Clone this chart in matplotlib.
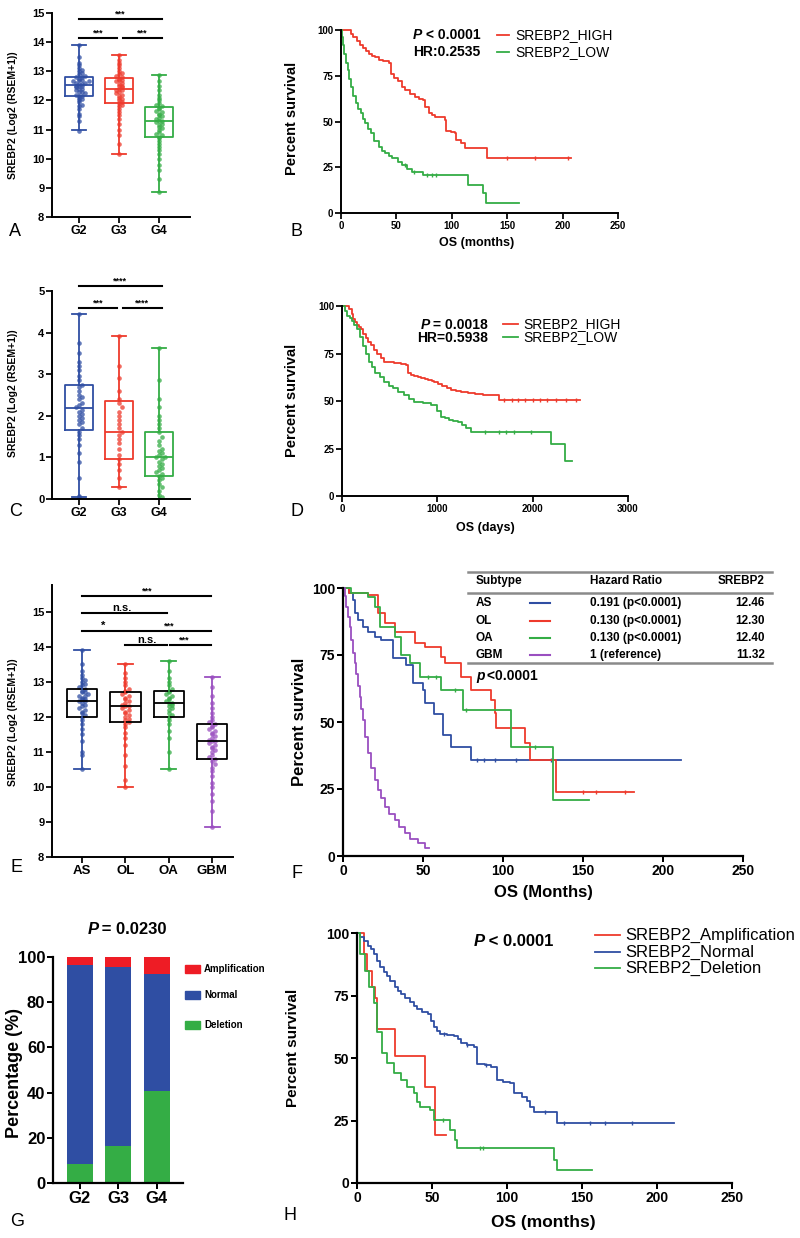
import numpy as np
import matplotlib
matplotlib.use('Agg')
import matplotlib.pyplot as plt

plt.rcParams['font.family'] = ['Liberation Sans', 'DejaVu Sans']
plt.rcParams['font.weight'] = 'bold'

# ---------------- data ----------------
grades = ['G2', 'G3', 'G4']
subtypes = ['AS', 'OL', 'OA', 'GBM']

# panel A: SREBP2 expression by grade (points + box stats)
a_g2 = [10.95, 11.3, 11.45, 11.55, 11.7, 11.8, 11.85, 11.95, 12.0, 12.05, 12.1, 12.15, 12.15, 12.2, 12.25,
        12.3, 12.3, 12.35, 12.4, 12.4, 12.45, 12.5, 12.5, 12.5, 12.55, 12.55, 12.6, 12.6, 12.65, 12.65,
        12.7, 12.7, 12.75, 12.8, 12.8, 12.85, 12.9, 12.95, 13.0, 13.05, 13.1, 13.2, 13.3, 13.5, 13.9]
a_g3 = [10.17, 10.5, 10.8, 11.0, 11.2, 11.35, 11.5, 11.6, 11.7, 11.8, 11.85, 11.9, 11.95, 12.0, 12.05,
        12.1, 12.15, 12.2, 12.25, 12.3, 12.35, 12.35, 12.4, 12.45, 12.5, 12.5, 12.55, 12.6, 12.65, 12.7,
        12.7, 12.75, 12.8, 12.85, 12.9, 12.95, 13.0, 13.1, 13.2, 13.3, 13.4, 13.55]
a_g4 = [8.86, 9.3, 9.6, 9.8, 10.0, 10.15, 10.3, 10.4, 10.5, 10.6, 10.7, 10.75, 10.8, 10.85, 10.9, 11.0,
        11.05, 11.1, 11.15, 11.2, 11.25, 11.3, 11.3, 11.35, 11.4, 11.45, 11.5, 11.55, 11.6, 11.65, 11.7,
        11.75, 11.8, 11.85, 11.9, 12.0, 12.1, 12.2, 12.35, 12.5, 12.65, 12.86]
a_lo = [10.97, 10.17, 8.86]
a_q1 = [12.14, 11.9, 10.76]
a_med = [12.52, 12.38, 11.28]
a_q3 = [12.79, 12.76, 11.76]
a_hi = [13.9, 13.55, 12.86]

# panel C
c_g2 = [0.05, 0.08, 0.5, 0.9, 1.1, 1.3, 1.45, 1.55, 1.62, 1.7, 1.8, 1.85, 1.9, 1.95, 2.0, 2.05, 2.1,
        2.15, 2.2, 2.25, 2.3, 2.4, 2.45, 2.5, 2.6, 2.7, 2.75, 2.85, 2.95, 3.1, 3.2, 3.3, 3.5, 3.75, 4.45]
c_g3 = [0.3, 0.5, 0.7, 0.85, 0.95, 1.05, 1.2, 1.35, 1.45, 1.55, 1.6, 1.7, 1.8, 1.9, 2.0, 2.1, 2.2, 2.3,
        2.4, 2.6, 2.9, 3.2, 3.93]
c_g4 = [0.0, 0.05, 0.1, 0.2, 0.3, 0.35, 0.45, 0.5, 0.55, 0.6, 0.65, 0.7, 0.75, 0.8, 0.85, 0.9, 0.95, 1.0,
        1.0, 1.05, 1.1, 1.15, 1.2, 1.3, 1.4, 1.5, 1.6, 1.7, 1.8, 1.9, 2.0, 2.2, 2.4, 2.85, 3.63]
c_lo = [0.05, 0.3, 0.0]
c_q1 = [1.65, 0.95, 0.55]
c_med = [2.18, 1.6, 1.0]
c_q3 = [2.75, 2.35, 1.6]
c_hi = [4.45, 3.93, 3.63]

# panel E
e_as = [10.5, 10.9, 11.0, 11.3, 11.5, 11.65, 11.8, 11.9, 12.0, 12.05, 12.1, 12.15, 12.2, 12.25, 12.3,
        12.35, 12.4, 12.45, 12.45, 12.5, 12.5, 12.55, 12.6, 12.6, 12.65, 12.7, 12.7, 12.75, 12.8, 12.85,
        12.9, 12.95, 13.0, 13.05, 13.1, 13.2, 13.3, 13.5, 13.9]
e_ol = [10.0, 10.2, 10.6, 10.9, 11.2, 11.4, 11.55, 11.7, 11.8, 11.85, 11.9, 11.95, 12.0, 12.05, 12.1,
        12.15, 12.2, 12.25, 12.3, 12.3, 12.35, 12.4, 12.45, 12.5, 12.55, 12.6, 12.65, 12.7, 12.75, 12.8,
        12.9, 13.0, 13.1, 13.25, 13.5]
e_oa = [10.5, 11.0, 11.4, 11.6, 11.8, 11.9, 12.0, 12.05, 12.1, 12.2, 12.25, 12.3, 12.35, 12.4, 12.4,
        12.45, 12.5, 12.55, 12.6, 12.65, 12.7, 12.75, 12.8, 12.9, 13.0, 13.1, 13.3, 13.6]
e_gbm = [8.85, 9.3, 9.6, 9.8, 10.0, 10.1, 10.3, 10.45, 10.55, 10.65, 10.75, 10.8, 10.85, 10.9, 11.0,
         11.05, 11.1, 11.15, 11.2, 11.25, 11.3, 11.3, 11.35, 11.4, 11.45, 11.5, 11.55, 11.6, 11.65, 11.7,
         11.75, 11.8, 11.85, 11.9, 12.0, 12.1, 12.25, 12.4, 12.6, 12.85, 13.15]
e_lo = [10.5, 10.0, 10.5, 8.85]
e_q1 = [12.0, 11.85, 12.0, 10.8]
e_med = [12.47, 12.3, 12.4, 11.32]
e_q3 = [12.8, 12.7, 12.75, 11.8]
e_hi = [13.9, 13.5, 13.6, 13.15]

# panel B: KM, months
b_hi_t = [0, 9, 11, 14, 17, 20, 23, 25, 28, 31, 34, 38, 43, 45, 48, 51, 55, 58, 62, 67, 70, 74, 76, 79,
          82, 85, 94, 95, 99, 103, 104, 108, 112, 132, 208]
b_hi_s = [100, 98, 96, 94, 92, 90, 88.5, 87, 86, 85, 83.6, 83, 82, 76, 74, 72, 69, 67, 65, 63.6, 62.5,
          61.7, 58, 54.5, 53.5, 52.6, 50.8, 45, 44, 43.5, 40, 38, 35.3, 29.9, 29.9]
b_hi_c = [150, 175, 205]
b_lo_t = [0, 1, 2, 3, 4.5, 6, 7.5, 9, 11, 13.4, 15.5, 18, 20, 22, 24.5, 27, 30, 34, 37, 40, 43, 46, 51,
          55, 60, 64, 74, 115, 128, 131, 161]
b_lo_s = [100, 96, 92, 87, 82, 78, 73, 69, 64, 60, 57, 54.5, 51.5, 49, 46, 43.5, 39.5, 36, 34, 32.6, 31,
          30, 28, 26, 24, 22.6, 20.8, 15.3, 10.7, 5.6, 5.6]
b_lo_c = [58, 66, 78, 82, 86]

# panel D: KM, days
d_hi_t = [0, 74, 100, 120, 140, 160, 180, 196, 220, 250, 275, 302, 335, 370, 405, 442, 500, 550, 620,
          670, 688, 720, 760, 800, 828, 870, 900, 940, 968, 1010, 1050, 1100, 1144, 1200, 1250, 1319,
          1400, 1480, 1565, 1650, 2494]
d_hi_s = [100, 98.5, 96, 93, 91.5, 90, 89, 88, 85.5, 83, 81, 79.5, 77, 75, 72.5, 70.7, 70.3, 70, 69.5,
          69, 64.5, 63.8, 63, 62.5, 62, 61.5, 61, 60.5, 60, 59, 58, 57, 55.8, 55.3, 55, 54, 53.7, 53.3,
          53, 50.5, 50.5]
d_hi_c = [1700, 1780, 1850, 1920, 2000, 2080, 2150, 2250, 2350, 2450]
d_lo_t = [0, 30, 56, 80, 100, 130, 161, 190, 220, 250, 284, 315, 350, 400, 442, 490, 530, 590, 653,
          700, 758, 850, 933, 1000, 1039, 1080, 1120, 1160, 1214, 1260, 1300, 1354, 2196, 2337, 2414]
d_lo_s = [100, 97.5, 95, 93.5, 92, 90, 88, 83.5, 79, 75, 70.7, 68, 65, 62.5, 60, 58, 56.7, 55, 53,
          51.3, 49.6, 48.8, 48, 45, 41.8, 41, 40, 39.5, 39, 37.5, 36, 33.9, 27.4, 18.4, 18.4]
d_lo_c = [1500, 1650, 1720, 1800, 1980]

# panel F: KM by subtype, months
f_as_t = [0, 4, 6.3, 7.7, 9.4, 12.5, 15.6, 19.8, 24, 31, 39.6, 43.8, 50, 51, 57, 62.5, 67.7, 80, 211]
f_as_s = [100, 98, 95.5, 90.5, 88, 85.6, 83.7, 81.8, 80.6, 73.8, 71.3, 64.4, 62, 57, 53, 45, 40.8, 35.8, 35.8]
f_as_c = [84, 88, 95, 108, 130]
f_ol_t = [0, 4, 15.6, 21.9, 26, 32.3, 44.8, 51, 61.5, 63.5, 74, 80.2, 92.7, 94.8, 95.8, 113.5, 116.7, 133, 182]
f_ol_s = [100, 98, 97.4, 90.5, 86.8, 83.7, 79.4, 78, 74.4, 71.9, 66.9, 61.9, 58.2, 53.2, 47.6, 42, 35.8, 24, 24]
f_ol_c = [150, 158, 176]
f_oa_t = [0, 5, 15.6, 19.8, 23, 32.3, 36.5, 41.7, 48, 61.5, 75, 105, 131.3, 154]
f_oa_s = [100, 98, 96.8, 93, 85.6, 81.8, 75, 71.9, 66.9, 62, 54.5, 40.8, 20.9, 20.9]
f_oa_c = [53, 58, 70, 77, 120]
f_gbm_t = [0, 1, 2, 3, 4.2, 5, 6.3, 7.3, 8.3, 9.4, 10.4, 11.5, 12.5, 14, 15.6, 17.5, 19.8, 22, 24, 26,
           29, 32.3, 35, 38.5, 42, 46.9, 51, 54]
f_gbm_s = [100, 97, 93, 89, 85.6, 80.5, 75.6, 72, 68, 63.5, 59.5, 55, 50.7, 44.5, 38.3, 33, 28.4, 24.5,
           21.5, 18.4, 15.5, 13.4, 11, 8.5, 6.5, 4.7, 2.9, 2.9]
f_hr = ['0.191 (p<0.0001)', '0.130 (p<0.0001)', '0.130 (p<0.0001)', '1 (reference)']
f_expr = ['12.46', '12.30', '12.40', '11.32']

# panel G: copy number status (%)
g_del = [8.4, 16.4, 40.8]
g_norm = [88.1, 79.3, 51.5]
g_amp = [3.5, 4.3, 7.7]

# panel H: KM by copy number, months
h_amp_t = [0, 4.4, 6.7, 10, 12.2, 13.3, 25.5, 45.5, 52.2, 59]
h_amp_s = [100, 91.8, 85, 78.5, 74, 61.8, 51, 38.6, 19.3, 19.3]
h_norm_t = [0, 2, 4.4, 7, 9, 11, 13, 15.6, 18, 20, 22, 25, 27, 29, 32, 35, 37.8, 40, 43, 47, 49, 51, 53,
            55.5, 60, 64.4, 67, 69, 73, 77.8, 80, 85, 89, 93, 97, 102, 104.4, 110, 113, 115.5, 118, 133, 211]
h_norm_s = [100, 98.5, 97, 95, 93.5, 91.8, 89, 86.4, 84.5, 82.7, 81, 78.5, 77, 75.8, 74, 72.5, 71, 69.5,
            68.5, 67.8, 65, 62.5, 61, 59.8, 59.4, 59, 57.5, 55.9, 55.2, 54.5, 47.8, 47.2, 46.5, 41.2, 40.5,
            39.9, 35.9, 34.5, 33, 30.6, 28.6, 23.9, 23.9]
h_norm_c = [58, 73, 86, 125, 138, 155, 165, 183]
h_del_t = [0, 2.2, 5.5, 7.8, 11, 13.3, 16.7, 20, 24.4, 29, 33, 37.8, 40, 42.2, 48.9, 51, 62, 65.5, 66.7,
           131, 133, 156.7]
h_del_s = [100, 91.8, 85, 78.5, 72, 60.5, 51.9, 47.9, 43.9, 41.2, 38.6, 35.9, 32.6, 30.6, 29.3, 25.3,
           21.3, 17.3, 14.2, 9.3, 5.3, 5.3]
h_del_c = [57, 82, 84]

BLUE = '#2f4ea3'
RED = '#ee3a2c'
GREEN = '#34ad45'
PURPLE = '#9a4fc0'

W, H = 800, 1238
fig = plt.figure(figsize=(W / 100, H / 100), dpi=100)


def add_ax(l, t, r, b):
    return fig.add_axes([l / W, 1 - b / H, (r - l) / W, (b - t) / H])


def style(ax, fs, lw=1.4):
    for s in ['top', 'right']:
        ax.spines[s].set_visible(False)
    for s in ['left', 'bottom']:
        ax.spines[s].set_linewidth(lw)
    ax.tick_params(width=lw * 0.9, length=4, labelsize=fs, pad=1.5)


def swarm(vals, bin_h, dx):
    vals = np.asarray(vals)
    bins = np.round(vals / bin_h).astype(int)
    off = np.zeros(len(vals))
    counts = {}
    for j, b in enumerate(bins):
        k = counts.get(b, 0)
        counts[b] = k + 1
        off[j] = ((k + 1) // 2) * dx * (1 if k % 2 else -1)
    return off


def box_panel(ax, groups, lo, q1, med, q3, hi, colors, edge=None, bin_h=0.1, dx=0.08, ms=11):
    for i, (vals, c) in enumerate(zip(groups, colors)):
        x = i + swarm(vals, bin_h, dx)
        ax.scatter(x, vals, s=ms, color=c, alpha=0.75, lw=0, zorder=2)
        ec = edge if edge else c
        st = [dict(whislo=lo[i], q1=q1[i], med=med[i], q3=q3[i], whishi=hi[i], fliers=[])]
        ax.bxp(st, positions=[i], widths=0.7, showfliers=False,
               boxprops=dict(color=ec, lw=1.3), whiskerprops=dict(color=c, lw=1.3),
               capprops=dict(color=c, lw=1.3), medianprops=dict(color=ec, lw=1.3))


def sig(ax, x1, x2, y, txt, tx=None, fs=6.5):
    ax.plot([x1, x2], [y, y], color='k', lw=1.5, clip_on=False)
    ax.text((x1 + x2) / 2 if tx is None else tx, y, txt, ha='center', va='bottom', fontsize=fs)


def km(ax, t, s, color, cens=None):
    ax.step(t, s, where='post', color=color, lw=1.3, clip_on=False)
    if cens:
        y = np.asarray(s)[np.searchsorted(t, cens, side='right') - 1]
        ax.plot(cens, y, '|', color=color, ms=3.5, mew=1, clip_on=False)


# overlay for free text
ov = fig.add_axes([0, 0, 1, 1], zorder=10)
ov.set_xlim(0, W)
ov.set_ylim(H, 0)
ov.axis('off')


def T(x, y, s, fs, **kw):
    kw.setdefault('ha', 'center')
    kw.setdefault('va', 'center')
    ov.text(x, y, s, fontsize=fs, **kw)


# ---------------- A ----------------
ax = add_ax(52, 13, 190, 217)
box_panel(ax, [a_g2, a_g3, a_g4], a_lo, a_q1, a_med, a_q3, a_hi, [BLUE, RED, GREEN])
ax.set_xlim(-0.675, 2.775)
ax.set_ylim(8, 15)
ax.set_xticks(range(3))
ax.set_xticklabels(grades)
style(ax, 8)
ax.tick_params(axis='x', labelsize=9)
sig(ax, 0, 2.07, 14.8, '***')
sig(ax, 0, 0.95, 14.15, '***')
sig(ax, 1.1, 2.07, 14.15, '***')
T(13, 115, 'SREBP2 (Log2 (RSEM+1))', 7.5, rotation=90)
T(15, 232, 'A', 13, fontweight='normal')

# ---------------- B ----------------
ax = add_ax(341, 30, 618, 213)
km(ax, b_hi_t, b_hi_s, RED, b_hi_c)
km(ax, b_lo_t, b_lo_s, GREEN, b_lo_c)
ax.set_xlim(0, 250)
ax.set_ylim(0, 100)
ax.set_xticks(range(0, 251, 50))
ax.set_yticks(range(0, 101, 25))
style(ax, 7)
T(292, 118, 'Percent survival', 10.5, rotation=90)
T(477, 243, 'OS (months)', 9)
T(297, 232, 'B', 13, fontweight='normal')
T(413, 35, 'P', 10, ha='left', style='italic')
T(422, 35, ' < 0.0001', 10, ha='left')
T(413, 52, 'HR:0.2535', 10, ha='left')
ov.plot([497, 509], [35, 35], color=RED, lw=1.3)
ov.plot([497, 509], [52, 52], color=GREEN, lw=1.3)
T(515, 35, 'SREBP2_HIGH', 10, ha='left', fontweight='normal')
T(515, 52, 'SREBP2_LOW', 10, ha='left', fontweight='normal')

# ---------------- C ----------------
ax = add_ax(52, 291, 190, 499)
box_panel(ax, [c_g2, c_g3, c_g4], c_lo, c_q1, c_med, c_q3, c_hi, [BLUE, RED, GREEN], bin_h=0.12, dx=0.07)
ax.set_xlim(-0.675, 2.775)
ax.set_ylim(0, 5)
ax.set_xticks(range(3))
ax.set_xticklabels(grades)
style(ax, 8)
ax.tick_params(axis='x', labelsize=9)
sig(ax, 0, 2.07, 5.13, '****')
sig(ax, 0, 0.95, 4.6, '***')
sig(ax, 1.1, 2.07, 4.6, '****')
T(13, 393, 'SREBP2 (Log2 (RSEM+1))', 7.5, rotation=90)
T(16, 512, 'C', 13, fontweight='normal')

# ---------------- D ----------------
ax = add_ax(342, 306, 628, 496)
km(ax, d_hi_t, d_hi_s, RED, d_hi_c)
km(ax, d_lo_t, d_lo_s, GREEN, d_lo_c)
ax.set_xlim(0, 3000)
ax.set_ylim(0, 100)
ax.set_xticks(range(0, 3001, 1000))
ax.set_yticks(range(0, 101, 25))
style(ax, 7)
T(292, 400, 'Percent survival', 10.5, rotation=90)
T(485, 528, 'OS (days)', 9)
T(297, 512, 'D', 13, fontweight='normal')
T(421, 325, 'P', 10, ha='left', style='italic')
T(429, 325, ' = 0.0018', 10, ha='left')
T(488, 338, 'HR=0.5938', 10, ha='right')
ov.plot([503, 518], [324, 324], color=RED, lw=1.3)
ov.plot([503, 518], [337, 337], color=GREEN, lw=1.3)
T(523, 324, 'SREBP2_HIGH', 10, ha='left', fontweight='normal')
T(523, 337, 'SREBP2_LOW', 10, ha='left', fontweight='normal')

# ---------------- E ----------------
ax = add_ax(52, 585, 233, 857)
box_panel(ax, [e_as, e_ol, e_oa, e_gbm], e_lo, e_q1, e_med, e_q3, e_hi,
          [BLUE, RED, GREEN, PURPLE], edge='k', dx=0.075)
ax.set_xlim(-0.69, 3.48)
ax.set_ylim(8, 15.77)
ax.set_xticks(range(4))
ax.set_xticklabels(subtypes)
ax.set_yticks(range(8, 16))
style(ax, 8)
ax.tick_params(axis='x', labelsize=9.5)
sig(ax, 0, 2.98, 15.46, '***', tx=1.5)
sig(ax, 0, 1.96, 14.97, 'n.s.', tx=0.92, fs=8)
sig(ax, 0, 0.95, 14.46, '*', tx=0.5, fs=8)
sig(ax, 1.0, 2.98, 14.46, '***', tx=2.0)
sig(ax, 0.99, 1.96, 14.06, 'n.s.', tx=1.5, fs=8)
sig(ax, 2.03, 2.98, 14.06, '***', tx=2.35)
T(13, 722, 'SREBP2 (Log2 (RSEM+1))', 7.5, rotation=90)
T(16, 867, 'E', 13, fontweight='normal')

# ---------------- F ----------------
ax = add_ax(343, 588, 743, 856)
km(ax, f_as_t, f_as_s, BLUE, f_as_c)
km(ax, f_ol_t, f_ol_s, RED, f_ol_c)
km(ax, f_oa_t, f_oa_s, GREEN, f_oa_c)
km(ax, f_gbm_t, f_gbm_s, PURPLE)
ax.set_xlim(0, 250)
ax.set_ylim(0, 100)
ax.set_xticks(range(0, 251, 50))
ax.set_yticks(range(0, 101, 25))
style(ax, 10, lw=1.6)
T(300, 722, 'Percent survival', 12, rotation=90)
T(543, 893, 'OS (Months)', 12)
T(297, 873, 'F', 13, fontweight='normal')
for yy in [572, 593, 663]:
    ov.plot([468, 772], [yy, yy], color='#8a8a8a', lw=1.8)
T(476, 581, 'Subtype', 8.5, ha='left')
T(590, 581, 'Hazard Ratio', 8.5, ha='left')
T(764, 581, 'SREBP2', 8.5, ha='right')
for i, (name, c) in enumerate(zip(subtypes, [BLUE, RED, GREEN, PURPLE])):
    yy = [603, 621, 638, 655][i]
    T(476, yy, name, 8.5, ha='left')
    ov.plot([530, 550], [yy, yy], color=c, lw=1.5)
    T(590, yy, f_hr[i], 8.5, ha='left')
    T(765, yy, f_expr[i], 8.5, ha='right')
T(476, 676, 'p', 10, ha='left', style='italic')
T(483, 676, ' <0.0001', 10, ha='left')

# ---------------- G ----------------
ax = add_ax(53, 957, 183, 1183)
x = np.arange(3)
bw = 0.675
ax.bar(x, g_del, bw, color=GREEN, label='Deletion')
ax.bar(x, g_norm, bw, bottom=g_del, color=BLUE, label='Normal')
ax.bar(x, g_amp, bw, bottom=np.add(g_del, g_norm), color='#ee1c25', label='Amplification')
ax.set_xlim(-0.7, 2.68)
ax.set_ylim(0, 100)
ax.set_xticks(x)
ax.set_xticklabels(grades)
ax.set_yticks(range(0, 101, 20))
style(ax, 12, lw=1.6)
T(88, 929, 'P', 12, style='italic', ha='left')
T(97, 929, ' = 0.0230', 12, ha='left')
T(15, 1073, 'Percentage (%)', 13, rotation=90)
T(17, 1221, 'G', 13, fontweight='normal')
for yy, c, lab in [(969, '#ee1c25', 'Amplification'), (995, BLUE, 'Normal'), (1025, GREEN, 'Deletion')]:
    ov.add_patch(plt.Rectangle((185, yy - 4), 15, 8, color=c))
    T(204, yy, lab, 7, ha='left')

# ---------------- H ----------------
ax = add_ax(357, 933, 732, 1183)
km(ax, h_amp_t, h_amp_s, RED)
km(ax, h_norm_t, h_norm_s, BLUE, h_norm_c)
km(ax, h_del_t, h_del_s, GREEN, h_del_c)
ax.set_xlim(0, 250)
ax.set_ylim(0, 100)
ax.set_xticks(range(0, 251, 50))
ax.set_yticks(range(0, 101, 25))
style(ax, 10, lw=1.6)
T(293, 1048, 'Percent survival', 11, rotation=90)
T(543, 1222, 'OS (months)', 12.5)
T(290, 1216, 'H', 13, fontweight='normal')
T(474, 941, 'P', 12, ha='left', style='italic')
T(484, 941, ' < 0.0001', 12, ha='left')
for yy, c, lab in [(935, RED, 'SREBP2_Amplification'), (952, BLUE, 'SREBP2_Normal'),
                   (968, GREEN, 'SREBP2_Deletion')]:
    ov.plot([595, 620], [yy, yy], color=c, lw=1.3)
    T(625, yy, lab, 12, ha='left', fontweight='normal')

fig.savefig('out.png', dpi=100)
